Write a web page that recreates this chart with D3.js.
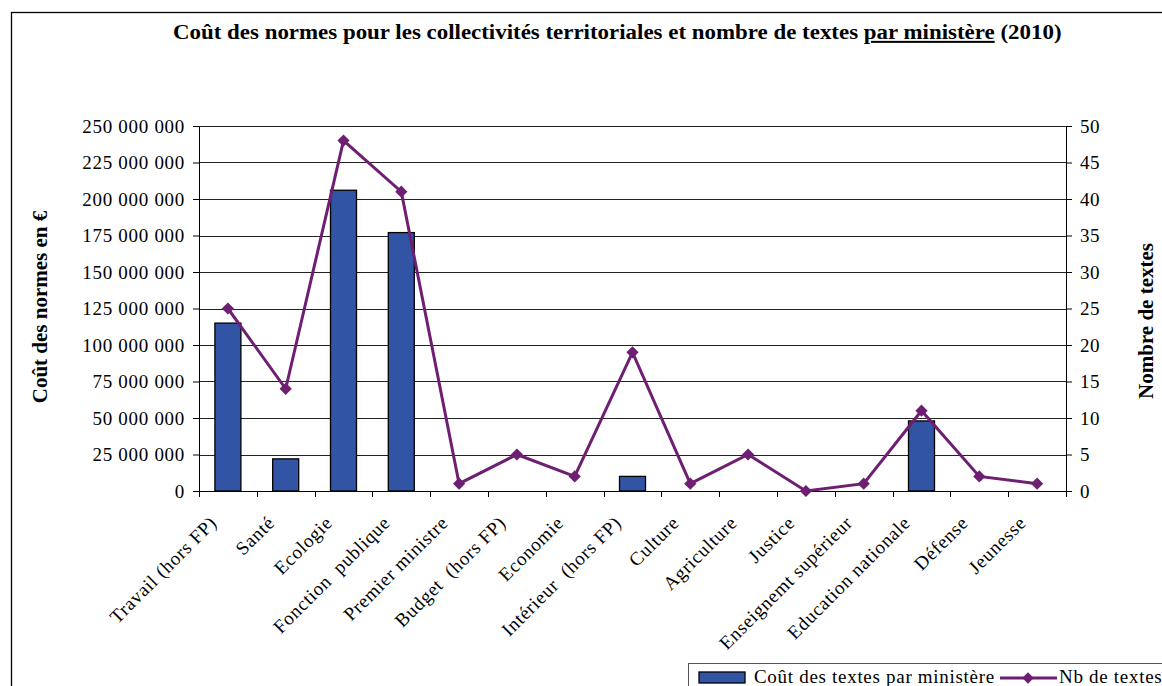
<!DOCTYPE html>
<html>
<head>
<meta charset="utf-8">
<script src="https://cdn.jsdelivr.net/npm/d3@7"></script>
<style>
  body { margin: 0; background: #fff; }
  text { font-family: "Times New Roman", "Liberation Serif", serif; fill: #000; }
</style>
</head>
<body>
<div id="chart"></div>
<script>
// data
const ministeres = ["Travail (hors FP)", "Santé", "Ecologie", "Fonction  publique", "Premier ministre",
  "Budget  (hors FP)", "Economie", "Intérieur  (hors FP)", "Culture", "Agriculture", "Justice",
  "Enseignemt supérieur", "Education nationale", "Défense", "Jeunesse"]
const couts = [115000000, 22000000, 206000000, 177000000, 0, 0, 0, 10000000, 0, 0, 0, 0, 48000000, 0, 0]
const nbTextes = [25, 14, 48, 41, 1, 5, 2, 19, 1, 5, 0, 1, 11, 2, 1]
const leftTicks = [0, 25e6, 50e6, 75e6, 100e6, 125e6, 150e6, 175e6, 200e6, 225e6, 250e6]
const rightTicks = [0, 5, 10, 15, 20, 25, 30, 35, 40, 45, 50]

const width = 1162, height = 686
const margin = {top: 126, right: 96, bottom: 195, left: 199}
const w = width - margin.left - margin.right
const h = height - margin.top - margin.bottom
const barColor = "#3155a4", lineColor = "#6e1f72"
const serif = "'Times New Roman','Liberation Serif',serif"

const svg = d3.select("#chart").append("svg")
  .attr("width", width).attr("height", height)

// outer frame
svg.append("rect")
  .attr("x", 11.5).attr("y", 12.5)
  .attr("width", 1170).attr("height", 700)
  .style("fill", "none").style("stroke", "#000").style("stroke-width", 1.3)

// title, underline on "par ministère"
const title = svg.append("text")
  .style("font-size", "20px").style("font-weight", "bold")
title.append("tspan").text("Coût des normes pour les collectivités territoriales et nombre de textes ")
title.append("tspan").text("par ministère").style("text-decoration", "underline")
title.append("tspan").text(" (2010)")
const tl = title.node().getComputedTextLength()
title.attr("transform", `translate(173,39) scale(${889 / tl},1)`)

const g = svg.append("g")
  .attr("transform", `translate(${margin.left},${margin.top})`)

const x = d3.scaleBand().domain(ministeres).range([0, w])
const yL = d3.scaleLinear().domain([0, 250e6]).range([h, 0])
const yR = d3.scaleLinear().domain([0, 50]).range([h, 0])

// gridlines
g.selectAll(".grid").data(leftTicks.slice(1)).enter().append("line")
  .attr("x1", 0).attr("x2", w)
  .attr("y1", d => Math.round(yL(d)) + 0.5).attr("y2", d => Math.round(yL(d)) + 0.5)
  .style("stroke", "#222").style("stroke-width", 1)

const fmt = d => d3.format(",")(d).replace(/,/g, " ")

// left axis
const axL = g.append("g").call(d3.axisLeft(yL).tickValues(leftTicks).tickFormat(fmt).tickSize(6).tickPadding(8))
axL.select(".domain").attr("d", `M-6,0.5H0.5V${h}`).style("stroke", "#000")
axL.selectAll("text").style("font-size", "19px").style("font-family", serif).style("letter-spacing", "0.7px")

// right axis
const axR = g.append("g").attr("transform", `translate(${w},0)`)
  .call(d3.axisRight(yR).tickValues(rightTicks).tickSize(6).tickPadding(8))
axR.select(".domain").attr("d", `M0.5,0V${h}`).style("stroke", "#000")
axR.selectAll("text").style("font-size", "19px").style("font-family", serif).style("letter-spacing", "0.6px")

// x axis with ticks at band boundaries
g.append("line").attr("x1", 0).attr("x2", w).attr("y1", h + 0.5).attr("y2", h + 0.5)
  .style("stroke", "#000")
g.selectAll(".xtick").data(d3.range(ministeres.length + 1)).enter().append("line")
  .attr("x1", i => Math.round(i * x.bandwidth()) + 0.5).attr("x2", i => Math.round(i * x.bandwidth()) + 0.5)
  .attr("y1", h).attr("y2", h + 6)
  .style("stroke", "#000")

g.selectAll(".xlabel").data(ministeres).enter().append("text")
  .attr("text-anchor", "end")
  .attr("transform", d => `translate(${x(d) + x.bandwidth() / 2 - 10},${h + 33}) rotate(-45)`)
  .style("font-size", "19px").style("letter-spacing", "0.7px").style("white-space", "pre")
  .text(d => d)

// bars (cost, left axis)
const bw = 26
const barData = ministeres.map((m, i) => ({m, v: couts[i]})).filter(d => d.v > 0)
g.selectAll(".bar").data(barData).enter().append("rect")
  .attr("x", d => x(d.m) + x.bandwidth() / 2 - bw / 2)
  .attr("y", d => yL(d.v))
  .attr("width", bw)
  .attr("height", d => h - yL(d.v))
  .style("fill", barColor).style("stroke", "#000").style("stroke-width", 1.3)

// line series (count, right axis)
const pts = ministeres.map((m, i) => ({m, v: nbTextes[i]}))
g.append("path").datum(pts)
  .attr("d", d3.line().x(d => x(d.m) + x.bandwidth() / 2).y(d => yR(d.v)))
  .style("fill", "none").style("stroke", lineColor).style("stroke-width", 3)
g.selectAll(".pt").data(pts).enter().append("path")
  .attr("d", d3.symbol().type(d3.symbolSquare).size(75))
  .attr("transform", d => `translate(${x(d.m) + x.bandwidth() / 2},${yR(d.v)}) rotate(45)`)
  .style("fill", lineColor)

// axis titles
svg.append("text")
  .attr("transform", "translate(47,307) rotate(-90)")
  .attr("text-anchor", "middle")
  .style("font-size", "21px").style("font-weight", "bold")
  .text("Coût des normes en €")
svg.append("text")
  .attr("transform", "translate(1153,321) rotate(-90)")
  .attr("text-anchor", "middle")
  .style("font-size", "21px").style("font-weight", "bold")
  .text("Nombre de textes")

// legend
const lg = svg.append("g").attr("transform", "translate(688,663)")
lg.append("rect").attr("x", 0.5).attr("y", 0.5).attr("width", 500).attr("height", 40)
  .style("fill", "#fff").style("stroke", "#555").style("stroke-width", 1)
lg.append("rect").attr("x", 11).attr("y", 9).attr("width", 46).attr("height", 11)
  .style("fill", barColor).style("stroke", "#000").style("stroke-width", 1.3)
lg.append("text").attr("x", 66).attr("y", 20).style("font-size", "19px").style("letter-spacing", "0.7px")
  .text("Coût des textes par ministère")
lg.append("line").attr("x1", 312).attr("x2", 369).attr("y1", 15).attr("y2", 15)
  .style("stroke", lineColor).style("stroke-width", 3)
lg.append("path").attr("d", d3.symbol().type(d3.symbolSquare).size(65))
  .attr("transform", "translate(340,15) rotate(45)").style("fill", lineColor)
lg.append("text").attr("x", 371).attr("y", 20).style("font-size", "19px").style("letter-spacing", "0.7px")
  .text("Nb de textes")
</script>
</body>
</html>
